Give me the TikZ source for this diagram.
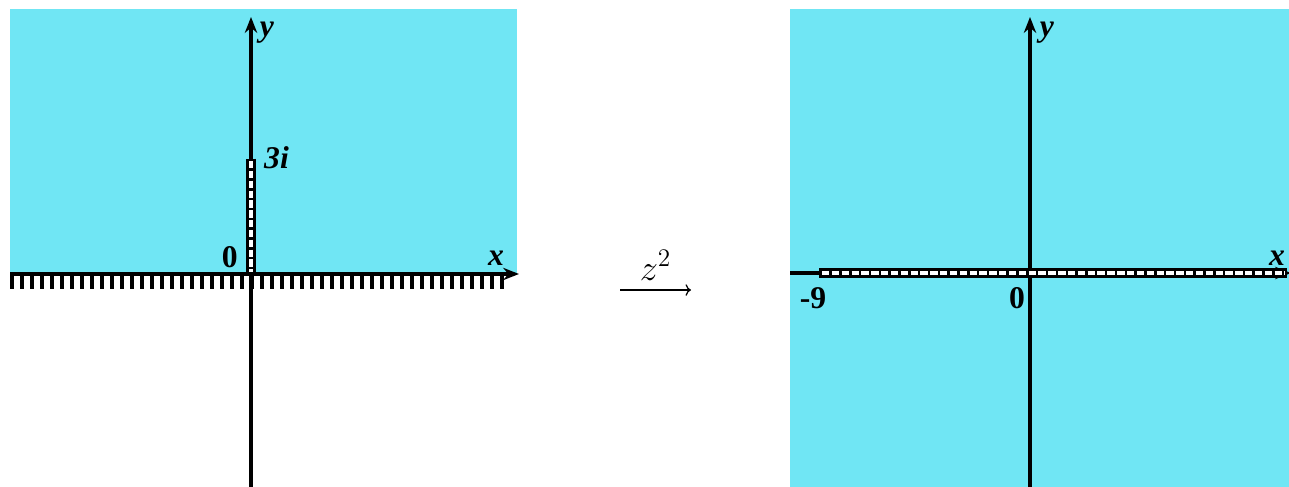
\documentclass[tikz,border=0pt]{standalone}
\usepackage{fontspec}
\setmainfont{Liberation Serif}
\usetikzlibrary{arrows.meta}
\definecolor{skyfill}{RGB}{112,230,244}
\tikzset{
  axis/.style={line width=1.9pt,-{Stealth[length=9pt,width=7pt]}},
  lab/.style={font=\fontsize{18}{20}\selectfont\bfseries},
  var/.style={font=\fontsize{18}{20}\selectfont\bfseries\itshape},
  cutblack/.style={line width=5.4pt},
  cutwhite/.style={line width=2.3pt,white,dash pattern=on 4.2pt off 1.4pt}
}
\begin{document}
\begin{tikzpicture}[x=0.02cm,y=-0.02cm]
\useasboundingbox (0,0) rectangle (1289,487);
% left plane
\fill[skyfill](10,9)rectangle(517,274);
\foreach \t in {0,...,49}
  \draw[line width=2pt](12+10*\t,275)--++(0,14);
\coordinate (lo) at (251,274);
\draw[axis](10,274)--(519,274);
\draw[axis](251,487)--(251,17);
\draw[cutblack](251,158.5)--(lo);
\draw[cutwhite](251,161)--(251,272);
\node[var,anchor=west] (li) at (258,158) {3i};
\node[lab,anchor=east] (lz) at (244,257) {0};
\node[var] (lx) at (496,258) {x};
\node[var] (ly) at (267,33) {y};
% map
\coordinate (ma) at (620,290);
\coordinate (mb) at (691,290);
\draw[->,line width=0.7pt](ma)--(mb)node[midway,above=2pt,font=\fontsize{22}{24}\selectfont]{$z^2$};
% right plane
\fill[skyfill](790,9)rectangle(1289,487);
\draw[axis](790,273)--(1291,273);
\draw[axis](1030,487)--(1030,17);
\coordinate (ro) at (1030,273);
\draw[cutblack](819,273)--(1287,273);
\draw[cutwhite](822,273)--(1285,273);
\node[lab] (rn) at (813,298) {-9};
\node[lab] (rz) at (1017,298) {0};
\node[var] (rx) at (1277,258) {x};
\node[var] (ry) at (1047,33) {y};
\end{tikzpicture}
\end{document}
